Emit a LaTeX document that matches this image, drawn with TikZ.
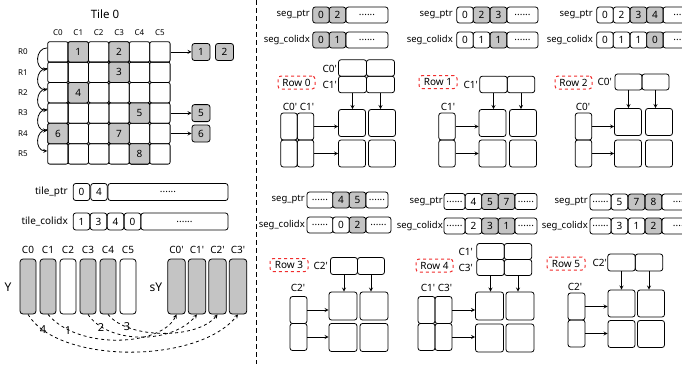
\documentclass[tikz,border=0pt]{standalone}
\usepackage{fontspec}
\setmainfont{Noto Sans}
\definecolor{cellgray}{RGB}{196,196,196}
\definecolor{tagred}{RGB}{240,45,45}
\newcommand{\qs}{\textquotesingle}
\tikzset{
  cell/.style={draw, line width=0.8pt, rounded corners=2pt, minimum width=20.4pt, minimum height=20.4pt, inner sep=0pt, font=\fontsize{10}{12}\selectfont},
  gcell/.style={cell, fill=cellgray},
  ent/.style={draw, line width=0.8pt, rounded corners=2.5pt, minimum width=16.5pt, minimum height=16pt, inner sep=0pt, font=\fontsize{10}{12}\selectfont},
  blk/.style={draw, line width=0.8pt, rounded corners=2.5pt, inner sep=0pt},
  bar/.style={draw, line width=0.8pt, rounded corners=3pt, minimum width=16pt, minimum height=55pt, inner sep=0pt},
  rowtag/.style={draw=tagred, dashed, line width=1pt, rounded corners=3pt, minimum width=37pt, minimum height=13pt, inner sep=0pt, font=\fontsize{10}{12}\selectfont},
  lbl/.style={inner sep=0pt, font=\fontsize{10}{12}\selectfont},
  small/.style={inner sep=0pt, font=\fontsize{8}{9}\selectfont},
  arrname/.style={anchor=east, inner sep=0pt, font=\fontsize{9.5}{11}\selectfont},
  conn/.style={->, line width=0.8pt},
}
\begin{document}
\begin{tikzpicture}[>=stealth, x=1pt, y=-1pt]
\useasboundingbox (0,0) rectangle (682,364);

% ---------- tile 0 ----------
\node[inner sep=0pt, font=\fontsize{11.5}{13}\selectfont] (title) at (105,14) {Tile 0};
\foreach \c in {0,...,5}
  \node[small] (ch\c) at (57.9+20.4*\c,33) {C\c};
\foreach \r in {0,...,5} {
  \node[small] (rh\r) at (23,51.9+20.4*\r) {R\r};
  \foreach \c in {0,...,5}
    \node[cell] (m\r\c) at (57.9+20.4*\c,51.9+20.4*\r) {};
}
\foreach \r/\c/\v in {0/1/1,0/3/2,1/3/3,2/1/4,3/4/5,4/0/6,4/3/7,5/4/8}
  \node[gcell] (v\v) at (m\r\c) {\v};
\foreach \r [count=\s] in {0,...,4}
  \draw[conn] ([yshift=4pt]m\r0.west) to[out=180,in=180,looseness=1.5] ([yshift=3pt]m\s0.west);

% non-empty rows
\node[ent, fill=cellgray, minimum width=18pt, minimum height=17pt] (o1) at (201,52) {1};
\node[ent, fill=cellgray, minimum width=18pt, minimum height=17pt] (o2) at (224.5,52) {2};
\node[ent, fill=cellgray, minimum width=18pt, minimum height=17pt] (o5) at (201,113.1) {5};
\node[ent, fill=cellgray, minimum width=18pt, minimum height=17pt] (o6) at (201,133.5) {6};
\draw[conn] (m05.east) -- (m05.east -| o1.west);
\draw[conn] (m35.east) -- (m35.east -| o5.west);
\draw[conn] (m45.east) -- (m45.east -| o6.west);

% tile arrays
\node[arrname, font=\fontsize{10}{12}\selectfont] (tpl) at (68,192) {tile\_ptr};
\node[ent, minimum height=17pt] (tp0) at (81.5,192) {0};
\node[ent, minimum height=17pt] (tp1) at (99,192) {4};
\node[ent, minimum height=17pt, minimum width=120pt] (tp2) at (168,192) {......};
\node[arrname, font=\fontsize{10}{12}\selectfont] (tcl) at (68,221.5) {tile\_colidx};
\foreach \v [count=\i from 0] in {1,3,4,0}
  \node[ent, minimum height=17pt] (tc\i) at (81.5+17*\i,221.5) {\v};
\node[ent, minimum height=17pt, minimum width=87pt] (tc4) at (184.5,221.5) {......};

% Y and sY
\node[inner sep=0pt, font=\fontsize{12}{14}\selectfont] (ylab) at (8,287) {Y};
\foreach \i/\f in {0/cellgray,1/cellgray,2/white,3/cellgray,4/cellgray,5/white} {
  \node[bar, fill=\f] (y\i) at (28+20*\i,286.5) {};
  \node[lbl] (yc\i) at (28+20*\i,250) {C\i};
}
\node[inner sep=0pt, font=\fontsize{12}{14}\selectfont] (sylab) at (156,287) {sY};
\foreach \i in {0,...,3} {
  \node[bar, fill=cellgray, minimum width=17.5pt] (s\i) at (176.5+20.5*\i,286.5) {};
  \node[lbl] (sc\i) at (176.5+20.5*\i,250) {C\i\qs};
}
\draw[conn, dashed] (y0.south) .. controls +(30,50) and +(-40,50) .. (s3.south);
\draw[conn, dashed] (y1.south) .. controls +(30,36) and +(-15,32) .. (s0.south);
\draw[conn, dashed] (y3.south) .. controls +(20,30) and +(-25,30) .. (s1.south);
\draw[conn, dashed] (y4.south) .. controls +(20,25) and +(-20,25) .. (s2.south);
\node[inner sep=0pt, font=\bfseries\fontsize{11}{13}\selectfont] (n4) at (43,330) {4};
\node[inner sep=0pt, font=\bfseries\fontsize{11}{13}\selectfont] (n1) at (68,331) {1};
\node[inner sep=0pt, font=\bfseries\fontsize{11}{13}\selectfont] (n2) at (101,328) {2};
\node[inner sep=0pt, font=\bfseries\fontsize{11}{13}\selectfont] (n3) at (127,327) {3};

% separator
\coordinate (sepT) at (256,0);
\coordinate (sepB) at (256,364);
\draw[line width=1pt, dash pattern=on 5pt off 3pt] (sepT) -- (sepB);

% ---------- Row 0 ----------
\node[arrname] (aptr) at (310,15) {seg\_ptr};
\foreach \v/\x/\f [count=\i from 0] in {0/321/cellgray,2/337.5/cellgray}
  \node[ent, fill=\f] (ap\i) at (\x,15) {\v};
\node[ent, minimum width=42pt] (ap2) at (367,15) {......};
\node[arrname] (acol) at (310,40) {seg\_colidx};
\foreach \v/\x/\f [count=\i from 0] in {0/321/cellgray,1/337.5/cellgray}
  \node[ent, fill=\f] (ac\i) at (\x,40) {\v};
\node[ent, minimum width=42pt] (ac2) at (367,40) {......};
\node[rowtag] (atag) at (296.5,82.5) {Row 0};
\node[lbl, anchor=east] (atl0) at (337,69) {C0\qs};
\node[lbl, anchor=east] (atl1) at (337,85) {C1\qs};
\foreach \r/\y in {0/68,1/84.5} \foreach \c/\x in {0/352.5,1/380.5}
  \node[blk, minimum width=28pt, minimum height=16.5pt] (at\r\c) at (\x,\y) {};
\foreach \r/\y in {0/123,1/153.5} \foreach \c/\x in {0/352,1/382}
  \node[blk, minimum size=27pt] (ar\r\c) at (\x,\y) {};
\foreach \r/\y in {0/126.5,1/153.5} \foreach \c/\x in {0/289,1/305.5}
  \node[blk, minimum width=16.5pt, minimum height=27pt] (al\r\c) at (\x,\y) {};
\node[lbl] (all0) at (290,107) {C0\qs};
\node[lbl] (all1) at (307,107) {C1\qs};
\foreach \c in {0,1} \draw[conn] (at1\c.south) -- (at1\c.south |- ar0\c.north);
\foreach \r in {0,1} \draw[conn] (al\r1.east) -- (al\r1.east -| ar\r0.west);

% ---------- Row 1 ----------
\node[arrname] (bptr) at (453,15) {seg\_ptr};
\foreach \v/\x/\f [count=\i from 0] in {0/465/white,2/481.5/cellgray,3/498.5/cellgray}
  \node[ent, fill=\f] (bp\i) at (\x,15) {\v};
\node[ent, minimum width=31pt] (bp3) at (522.5,15) {......};
\node[arrname] (bcol) at (453,40) {seg\_colidx};
\foreach \v/\x/\f [count=\i from 0] in {0/465/white,1/481.5/white,1/498.5/cellgray}
  \node[ent, fill=\f] (bc\i) at (\x,40) {\v};
\node[ent, minimum width=31pt] (bc3) at (522.5,40) {......};
\node[rowtag, minimum width=38pt] (btag) at (438,82) {Row 1};
\node[lbl, anchor=east] (btl1) at (478,84.5) {C1\qs};
\foreach \c/\x in {0/493.5,1/521}
  \node[blk, minimum width=27.5pt, minimum height=16.5pt] (bt0\c) at (\x,84.5) {};
\foreach \r/\y in {0/123,1/153.5} \foreach \c/\x in {0/492.5,1/523}
  \node[blk, minimum size=27pt] (br\r\c) at (\x,\y) {};
\foreach \r/\y in {0/126.5,1/153.5}
  \node[blk, minimum width=16.5pt, minimum height=27pt] (bl\r0) at (447,\y) {};
\node[lbl] (bll0) at (448,107) {C1\qs};
\foreach \c in {0,1} \draw[conn] (bt0\c.south) -- (bt0\c.south |- br0\c.north);
\foreach \r in {0,1} \draw[conn] (bl\r0.east) -- (bl\r0.east -| br\r0.west);

% ---------- Row 2 ----------
\node[arrname] (cptr) at (593,15) {seg\_ptr};
\foreach \v/\x/\f [count=\i from 0] in {0/605/white,2/621.5/white,3/638.5/cellgray,4/655/cellgray}
  \node[ent, fill=\f] (cp\i) at (\x,15) {\v};
\node[ent, minimum width=37pt] (cp4) at (681.5,15) {......};
\node[arrname] (ccol) at (593,40) {seg\_colidx};
\foreach \v/\x/\f [count=\i from 0] in {0/605/white,1/621.5/white,1/638.5/white,0/655/cellgray}
  \node[ent, fill=\f] (cc\i) at (\x,40) {\v};
\node[ent, minimum width=37pt] (cc4) at (681.5,40) {......};
\node[rowtag] (ctag) at (573.5,82.5) {Row 2};
\node[lbl, anchor=east] (ctl0) at (612,82) {C0\qs};
\foreach \c/\x in {0/628.5,1/655.5}
  \node[blk, minimum width=27pt, minimum height=16pt] (ct0\c) at (\x,82) {};
\foreach \r/\y in {0/122,1/153.5} \foreach \c/\x in {0/628,1/659}
  \node[blk, minimum size=27pt] (cr\r\c) at (\x,\y) {};
\foreach \r/\y in {0/126.5,1/153.5}
  \node[blk, minimum width=16.5pt, minimum height=27pt] (cl\r0) at (583.5,\y) {};
\node[lbl] (cll0) at (583,107) {C0\qs};
\foreach \c in {0,1} \draw[conn] (ct0\c.south) -- (ct0\c.south |- cr0\c.north);
\foreach \r in {0,1} \draw[conn] (cl\r0.east) -- (cl\r0.east -| cr\r0.west);

% ---------- Row 3 ----------
\node[arrname] (dptr) at (305,200) {seg\_ptr};
\node[ent, minimum width=26pt] (dp0) at (320,200) {......};
\foreach \v/\x/\f [count=\i] in {4/341/cellgray,5/357.5/cellgray}
  \node[ent, fill=\f] (dp\i) at (\x,200) {\v};
\node[ent, minimum width=22pt] (dp3) at (377,200) {......};
\node[arrname] (dcol) at (305,225) {seg\_colidx};
\node[ent, minimum width=26pt] (dc0) at (320,225) {......};
\foreach \v/\x/\f [count=\i] in {0/341/white,2/357.5/cellgray}
  \node[ent, fill=\f] (dc\i) at (\x,225) {\v};
\node[ent, minimum width=25pt] (dc3) at (378.5,225) {......};
\node[rowtag, minimum width=38pt] (dtag) at (289,265) {Row 3};
\node[lbl, anchor=east] (dtl0) at (328,266) {C2\qs};
\foreach \c/\x in {0/344,1/371}
  \node[blk, minimum width=27pt, minimum height=17pt] (dt0\c) at (\x,266) {};
\foreach \r/\y in {0/306,1/337.5} \foreach \c/\x in {0/343,1/374}
  \node[blk, minimum size=28pt] (dr\r\c) at (\x,\y) {};
\foreach \r/\y in {0/310,1/337}
  \node[blk, minimum width=17pt, minimum height=27pt] (dl\r0) at (298.5,\y) {};
\node[lbl] (dll0) at (298,288) {C2\qs};
\foreach \c in {0,1} \draw[conn] (dt0\c.south) -- (dt0\c.south |- dr0\c.north);
\foreach \r in {0,1} \draw[conn] (dl\r0.east) -- (dl\r0.east -| dr\r0.west);

% ---------- Row 4 ----------
\node[arrname] (eptr) at (443,201.5) {seg\_ptr};
\node[ent, minimum width=21pt] (ep0) at (454.5,201.5) {......};
\foreach \v/\x/\f [count=\i] in {4/473.5/white,5/490/cellgray,7/506.5/cellgray}
  \node[ent, fill=\f] (ep\i) at (\x,201.5) {\v};
\node[ent, minimum width=22pt] (ep4) at (526,201.5) {......};
\node[arrname] (ecol) at (443,226) {seg\_colidx};
\node[ent, minimum width=21pt] (ec0) at (454.5,226) {......};
\foreach \v/\x/\f [count=\i] in {2/473.5/white,3/490/cellgray,1/506.5/cellgray}
  \node[ent, fill=\f] (ec\i) at (\x,226) {\v};
\node[ent, minimum width=22pt] (ec4) at (526,226) {......};
\node[rowtag] (etag) at (434.5,265.5) {Row 4};
\node[lbl, anchor=east] (etl0) at (473,251.5) {C1\qs};
\node[lbl, anchor=east] (etl1) at (473,267.5) {C3\qs};
\foreach \r/\y in {0/251.5,1/267.5} \foreach \c/\x in {0/490.5,1/518}
  \node[blk, minimum width=27.5pt, minimum height=16pt] (et\r\c) at (\x,\y) {};
\foreach \r/\y in {0/306,1/338} \foreach \c/\x in {0/489.5,1/520}
  \node[blk, minimum size=28pt] (er\r\c) at (\x,\y) {};
\foreach \r/\y in {0/310,1/337} \foreach \c/\x in {0/426.5,1/443.5}
  \node[blk, minimum width=17pt, minimum height=27pt] (el\r\c) at (\x,\y) {};
\node[lbl] (ell0) at (428,288) {C1\qs};
\node[lbl] (ell1) at (445,288) {C3\qs};
\foreach \c in {0,1} \draw[conn] (et1\c.south) -- (et1\c.south |- er0\c.north);
\foreach \r in {0,1} \draw[conn] (el\r1.east) -- (el\r1.east -| er\r0.west);

% ---------- Row 5 ----------
\node[arrname] (fptr) at (588,202) {seg\_ptr};
\node[ent, minimum width=21pt] (fp0) at (600.5,202) {......};
\foreach \v/\x/\f [count=\i] in {5/619.5/white,7/636.5/cellgray,8/653.5/cellgray}
  \node[ent, fill=\f] (fp\i) at (\x,202) {\v};
\node[ent, minimum width=38pt] (fp4) at (681,202) {......};
\node[arrname] (fcol) at (588,226) {seg\_colidx};
\node[ent, minimum width=21pt] (fc0) at (600.5,226) {......};
\foreach \v/\x/\f [count=\i] in {3/619.5/white,1/636.5/white,2/653.5/cellgray}
  \node[ent, fill=\f] (fc\i) at (\x,226) {\v};
\node[ent, minimum width=38pt] (fc4) at (681,226) {......};
\node[rowtag, minimum width=38pt] (ftag) at (566,263.5) {Row 5};
\node[lbl, anchor=east] (ftl0) at (607,262.5) {C2\qs};
\foreach \c/\x in {0/621.5,1/649}
  \node[blk, minimum width=27.5pt, minimum height=17pt] (ft0\c) at (\x,262.5) {};
\foreach \r/\y in {0/303.5,1/334} \foreach \c/\x in {0/621.5,1/651}
  \node[blk, minimum size=27pt] (fr\r\c) at (\x,\y) {};
\foreach \r/\y in {0/306.5,1/333.5}
  \node[blk, minimum width=17pt, minimum height=27pt] (fl\r0) at (576.5,\y) {};
\node[lbl] (fll0) at (575,287) {C2\qs};
\foreach \c in {0,1} \draw[conn] (ft0\c.south) -- (ft0\c.south |- fr0\c.north);
\foreach \r in {0,1} \draw[conn] (fl\r0.east) -- (fl\r0.east -| fr\r0.west);
\end{tikzpicture}
\end{document}
